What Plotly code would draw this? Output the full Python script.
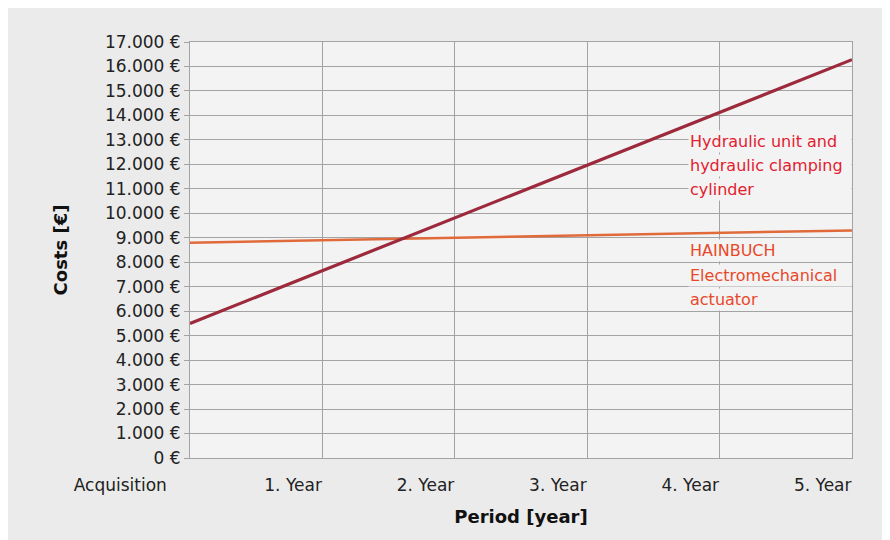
import plotly.graph_objects as go

periods = ["Acquisition", "1. Year", "2. Year", "3. Year", "4. Year", "5. Year"]
period_idx = [0, 1, 2, 3, 4, 5]
hydraulic_costs = [5500, 7650, 9800, 11950, 14100, 16280]
hainbuch_costs = [8800, 8900, 9000, 9100, 9200, 9300]
y_ticks = list(range(0, 17001, 1000))
y_tick_labels = [f"{v:,}".replace(",", ".") + " €" for v in y_ticks]

hydraulic_label = ["Hydraulic unit and", "hydraulic clamping", "cylinder"]
hydraulic_label_y = [12950, 11970, 10990]
hainbuch_label = ["HAINBUCH", "Electromechanical", "actuator"]
hainbuch_label_y = [8460, 7440, 6460]
label_x = 3.765

tick_labels = [periods[0] + "\u2003\u2004"] + periods[1:]

FONT = "'DejaVu Sans', sans-serif"
GRID = "#a3a3a3"
PLOT_BG = "#f3f3f3"

fig = go.Figure()
fig.add_trace(go.Scatter(x=period_idx, y=hainbuch_costs, mode="lines",
                         line=dict(color="#e06a3a", width=2.5), showlegend=False))
fig.add_trace(go.Scatter(x=period_idx, y=hydraulic_costs, mode="lines",
                         line=dict(color="#9c2a3c", width=3.2), showlegend=False))

for lines, ys, col in [(hydraulic_label, hydraulic_label_y, "#e3202f"),
                       (hainbuch_label, hainbuch_label_y, "#e8482a")]:
    for txt, yv in zip(lines, ys):
        fig.add_annotation(x=label_x, y=yv, xref="x", yref="y", xanchor="left",
                           yanchor="middle", align="left", showarrow=False,
                           bgcolor=PLOT_BG, borderpad=1, width=160,
                           text=txt, font=dict(family=FONT, size=16, color=col))

fig.update_layout(
    width=882, height=532,
    margin=dict(l=182, r=38, t=34, b=82),
    paper_bgcolor="#ebebeb",
    plot_bgcolor=PLOT_BG,
    font=dict(family=FONT, size=17, color="#222222"),
)
fig.update_xaxes(
    range=[0, 5], tickvals=period_idx, ticktext=tick_labels,
    ticklabelposition="outside left", ticks="", ticklabelstandoff=12,
    showgrid=True, gridcolor=GRID, gridwidth=1,
    showline=True, mirror=True, linecolor=GRID, linewidth=1, zeroline=False,
    title=dict(text="<b>Period [year]</b>", standoff=15,
               font=dict(family=FONT, size=18, color="#111111")),
    tickfont=dict(size=17, color="#222222"),
)
fig.update_yaxes(
    range=[0, 17000], tickvals=y_ticks, ticktext=y_tick_labels,
    ticks="outside", ticklen=5, tickcolor=GRID,
    showgrid=True, gridcolor=GRID, gridwidth=1,
    showline=True, mirror=True, linecolor=GRID, linewidth=1, zeroline=False,
    title=dict(text="<b>Costs [€]</b>", standoff=32,
               font=dict(family=FONT, size=18, color="#111111")),
    tickfont=dict(size=17, color="#222222"),
)

fig.write_html("out.html")
